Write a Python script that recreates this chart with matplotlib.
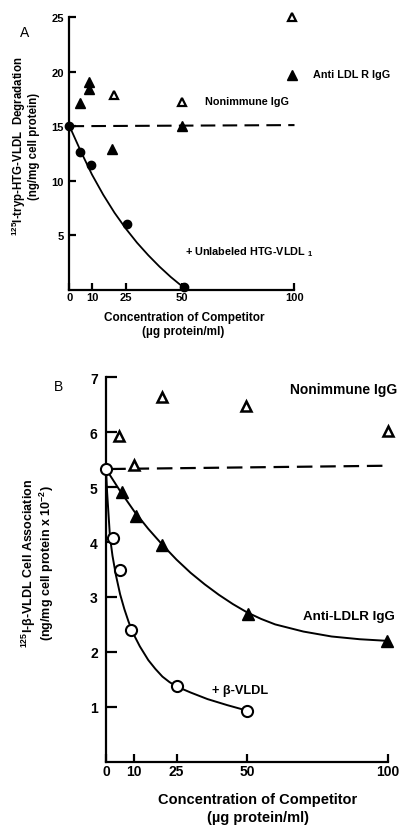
import matplotlib
matplotlib.use("Agg")
import matplotlib.pyplot as plt

plt.rcParams['font.family'] = ['Liberation Sans', 'DejaVu Sans']
plt.rcParams['font.weight'] = 'bold'
plt.rcParams['mathtext.default'] = 'regular'

# ---- panel A data (ng/mg cell protein) ----
conc_a_vldl = [0, 4.5, 9.5, 25.5, 51]
deg_a_vldl = [15.0, 12.6, 11.4, 6.0, 0.2]
conc_a_anti = [4.7, 8.8, 8.8, 18.8, 49.9, 98.8]
deg_a_anti = [17.1, 19.1, 18.4, 12.9, 15.0, 19.7]
conc_a_nonimm = [19.9, 49.9, 98.8]
deg_a_nonimm = [17.9, 17.2, 25.0]
# fitted curve and control level
curve_a_x = [0, 5, 10, 15, 20, 25, 30, 35, 40, 45, 50, 51]
curve_a_y = [15.0, 12.7, 10.55, 8.7, 7.05, 5.6, 4.3, 3.15, 2.1, 1.15, 0.3, 0.1]
ctrl_a_x = [0, 100]
ctrl_a_y = [15.0, 15.1]

# ---- panel B data (ng/mg cell protein x 10^-2) ----
conc_b_vldl = [0, 2.5, 5, 9, 25, 50]
assoc_b_vldl = [5.33, 4.07, 3.49, 2.40, 1.37, 0.93]
conc_b_anti = [5.5, 10.5, 20, 50.5, 99.5]
assoc_b_anti = [4.91, 4.47, 3.95, 2.69, 2.20]
conc_b_nonimm = [4.5, 10, 20, 49.5, 100]
assoc_b_nonimm = [5.94, 5.41, 6.64, 6.48, 6.03]
curve_b_vldl_x = [0, 0.4, 0.9, 1.4, 2.3, 3.5, 5, 6.5, 8, 9.5, 12, 15, 17.5, 20, 22.5, 25,
                  30, 36, 43, 50]
curve_b_vldl_y = [5.33, 4.9, 4.5, 4.1, 3.75, 3.4, 3.05, 2.78, 2.55, 2.35, 2.1, 1.85, 1.69,
                  1.55, 1.45, 1.37, 1.26, 1.14, 1.03, 0.93]
curve_b_anti_x = [0, 5, 10, 15, 20, 25, 30, 35, 40, 45, 50, 55, 60, 70, 80, 90, 100]
curve_b_anti_y = [5.33, 4.93, 4.56, 4.24, 3.95, 3.68, 3.44, 3.23, 3.04, 2.87, 2.72, 2.60,
                  2.50, 2.37, 2.28, 2.23, 2.2]
ctrl_b_x = [1.5, 100]
ctrl_b_y = [5.33, 5.39]

x_ticks = [0, 10, 25, 50, 100]

W, H = 402, 829
fig = plt.figure(figsize=(W / 100, H / 100), dpi=100)


def box(x0, y0, x1, y1):
    """pixel box (left, top, right, bottom) -> figure fraction rect"""
    return [x0 / W, 1 - y1 / H, (x1 - x0) / W, (y1 - y0) / H]


def ftext(px, py, s, **kw):
    fig.text(px / W, 1 - py / H, s, **kw)


def style_axes(ax, ylim, yticks, fs, ylen, xlen, ypad):
    ax.set_xlim(0, 100)
    ax.set_ylim(*ylim)
    for side in ['top', 'right']:
        ax.spines[side].set_visible(False)
    for side in ['left', 'bottom']:
        ax.spines[side].set_linewidth(1.6)
    ax.set_xticks(x_ticks)
    ax.set_xticklabels([str(t) for t in x_ticks])
    ax.set_yticks(yticks)
    ax.set_yticklabels([str(t) for t in yticks])
    ax.tick_params(axis='x', direction='in', length=xlen, width=1.6, pad=2, labelsize=fs)
    ax.tick_params(axis='y', direction='in', length=ylen, width=1.6, pad=ypad, labelsize=fs)
    for lab in ax.get_xticklabels() + ax.get_yticklabels():
        lab.set_fontweight('bold')


# ================= panel A =================
axA = fig.add_axes(box(69.5, 18.3, 294.5, 290.5))
style_axes(axA, (0, 25), [5, 10, 15, 20, 25], 8, 5, 5, 4)

axA.plot(ctrl_a_x, ctrl_a_y, color='black', lw=1.5, ls=(0, (7, 3.5)), clip_on=False)
axA.plot(curve_a_x, curve_a_y, color='black', lw=1.3, clip_on=False)
axA.plot(conc_a_vldl, deg_a_vldl, 'o', color='black', ms=6, clip_on=False, zorder=4)
axA.plot(conc_a_anti, deg_a_anti, '^', color='black', ms=7, clip_on=False, zorder=4)
axA.plot(conc_a_nonimm, deg_a_nonimm, '^', mfc='white', mec='black', mew=1.6, ms=6,
         clip_on=False, zorder=4)

ftext(25, 33, 'A', fontsize=10, fontweight='normal', ha='center', va='center')
ftext(313, 75, 'Anti LDL R IgG', fontsize=7.8, ha='left', va='center')
ftext(205, 102, 'Nonimmune IgG', fontsize=7.8, ha='left', va='center')
ftext(185, 252, '+ Unlabeled HTG-VLDL $_{1}$', fontsize=7.8, ha='left', va='center')
ftext(25, 146, '$^{125}$I-tryp-HTG-VLDL  Degradation\n(ng/mg cell protein)',
      fontsize=8.3, rotation=90, ha='center', va='center', multialignment='center',
      linespacing=1.0)
ftext(184, 318, 'Concentration of Competitor', fontsize=8.5, ha='center', va='center')
ftext(183, 332, '(\u00b5g protein/ml)', fontsize=8.5, ha='center', va='center')

# ================= panel B =================
axB = fig.add_axes(box(106, 378.3, 388, 762.7))
style_axes(axB, (0, 7), [1, 2, 3, 4, 5, 6, 7], 10, 8, 6, 6)

axB.plot(ctrl_b_x, ctrl_b_y, color='black', lw=1.6, ls=(0, (7, 3.5)), clip_on=False)
axB.plot(curve_b_anti_x, curve_b_anti_y, color='black', lw=1.4, clip_on=False)
axB.plot(curve_b_vldl_x, curve_b_vldl_y, color='black', lw=1.4, clip_on=False)
axB.plot(conc_b_anti, assoc_b_anti, '^', color='black', ms=8, clip_on=False, zorder=4)
axB.plot(conc_b_nonimm, assoc_b_nonimm, '^', mfc='white', mec='black', mew=1.8, ms=7,
         clip_on=False, zorder=4)
axB.plot(conc_b_vldl, assoc_b_vldl, 'o', mfc='white', mec='black', mew=1.5, ms=8,
         clip_on=False, zorder=5)

ftext(59, 387, 'B', fontsize=10, fontweight='normal', ha='center', va='center')
ftext(290, 390, 'Nonimmune IgG', fontsize=10, ha='left', va='center')
ftext(303, 617, 'Anti-LDLR IgG', fontsize=9.6, ha='left', va='center')
ftext(212, 691, '+ \u03b2-VLDL', fontsize=9.2, ha='left', va='center')
ftext(38, 563, '$^{125}$I-\u03b2-VLDL Cell Association\n(ng/mg cell protein x 10$^{-2}$)',
      fontsize=9.0, rotation=90, ha='center', va='center', multialignment='center',
      linespacing=1.0)
ftext(258, 800, 'Concentration of Competitor', fontsize=10.5, ha='center', va='center')
ftext(258, 818, '(\u00b5g protein/ml)', fontsize=10.5, ha='center', va='center')

fig.savefig('out.png', dpi=100)
